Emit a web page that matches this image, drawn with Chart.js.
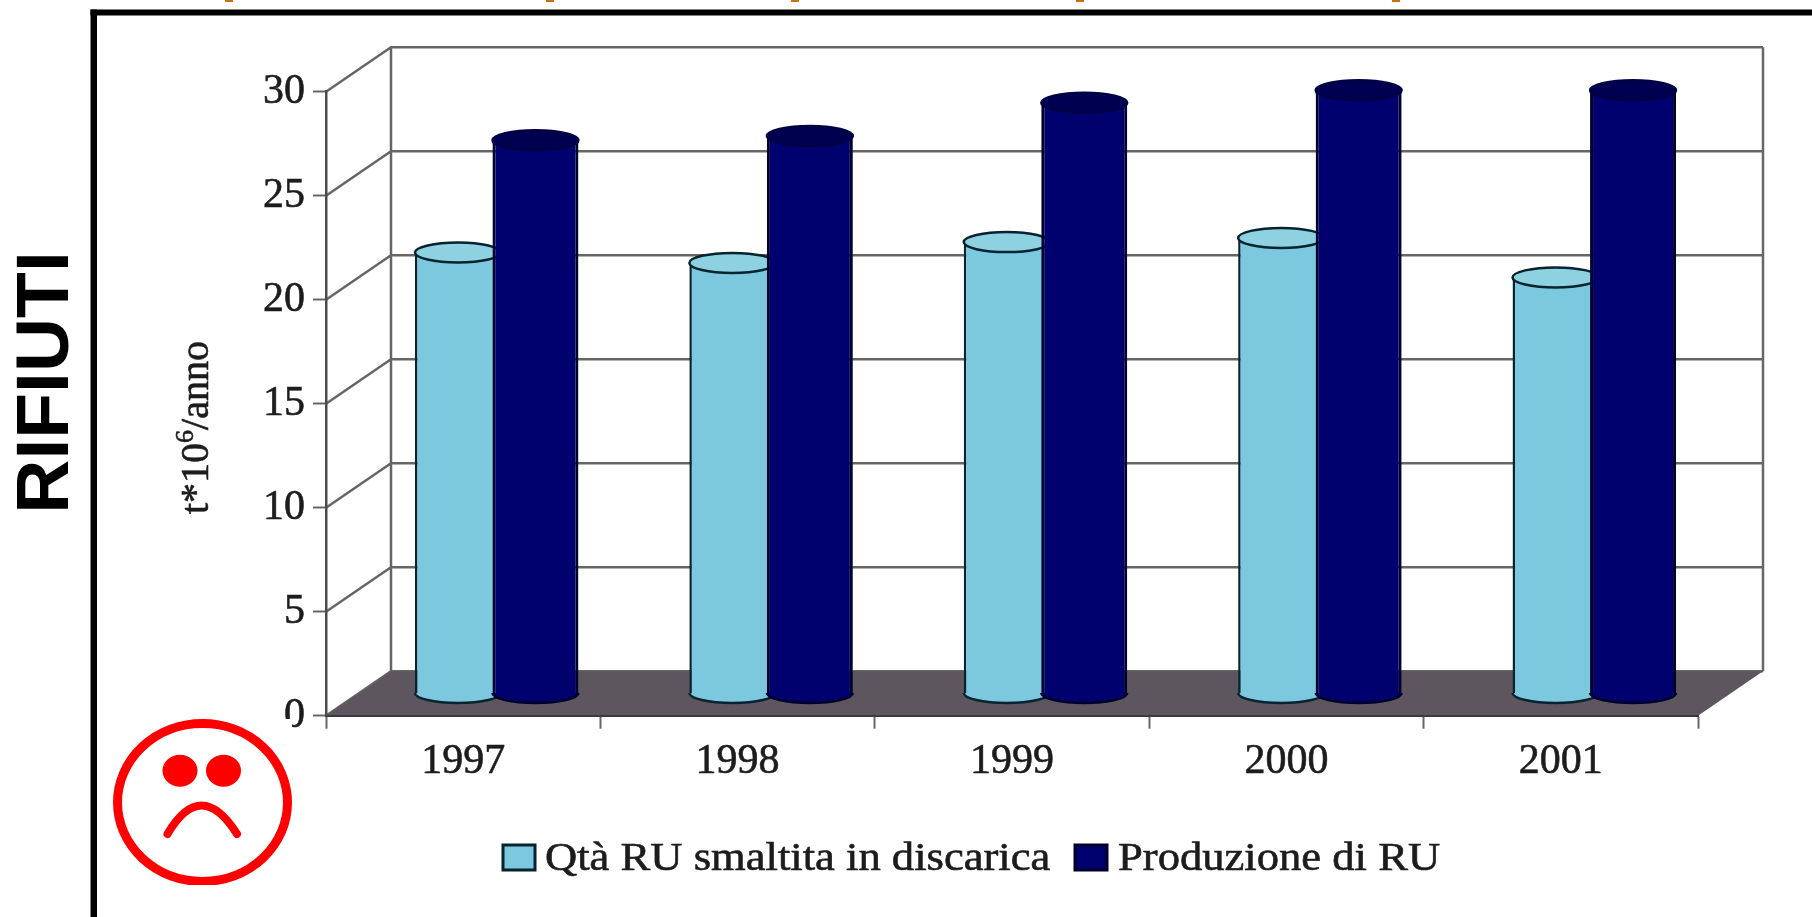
<!DOCTYPE html>
<html lang="it">
<head>
<meta charset="utf-8">
<title>Rifiuti</title>
<script src="https://cdn.jsdelivr.net/npm/chart.js@4/dist/chart.umd.min.js"></script>
<style>
    html, body { margin: 0; padding: 0; background: #fff; overflow: hidden; }
    canvas { display: block; }
</style>
</head>
<body>
<canvas id="wasteChart" width="1812" height="917"></canvas>
<script>
// Chart data
const categories = ['1997', '1998', '1999', '2000', '2001'];
const landfillValues = [21.2, 20.7, 21.7, 21.9, 20.0];
const productionValues = [26.6, 26.8, 28.4, 29.0, 29.0];
const seriesLabels = ['Qtà RU smaltita in discarica', 'Produzione di RU'];
const yTicks = [0, 5, 10, 15, 20, 25, 30];

const SERIF = '"Liberation Serif", "Times New Roman", serif';
const TEXT_COLOR = '#1c1c1c';
const LINE_COLOR = '#666666';

// Fake 3D box: how far the back wall sits from the front axes
const DEPTH_X = 65;
const DEPTH_Y = -44.5;
const ELLIPSE_RY = 10;
// Distance between the two cylinders of a year
const BAR_SLOT = 77.5;

// Walls, floor and grid lines, behind the axes
const boxPlugin = {
    id: 'box3d',
    beforeDraw(chart) {
        const { ctx, chartArea: area, scales } = chart;
        ctx.save();
        ctx.strokeStyle = LINE_COLOR;
        ctx.lineWidth = 2.5;
        ctx.beginPath();
        yTicks.forEach(v => {
            const y = scales.y.getPixelForValue(v);
            ctx.moveTo(area.left, y);
            ctx.lineTo(area.left + DEPTH_X, y + DEPTH_Y);
            ctx.lineTo(area.right + DEPTH_X, y + DEPTH_Y);
        });
        ctx.moveTo(area.left + DEPTH_X, area.top + DEPTH_Y);
        ctx.lineTo(area.left + DEPTH_X, area.bottom + DEPTH_Y);
        ctx.moveTo(area.right + DEPTH_X, area.top + DEPTH_Y);
        ctx.lineTo(area.right + DEPTH_X, area.bottom + DEPTH_Y);
        ctx.stroke();

        ctx.fillStyle = '#5e565e';
        ctx.beginPath();
        ctx.moveTo(area.left, area.bottom);
        ctx.lineTo(area.right, area.bottom);
        ctx.lineTo(area.right + DEPTH_X, area.bottom + DEPTH_Y);
        ctx.lineTo(area.left + DEPTH_X, area.bottom + DEPTH_Y);
        ctx.closePath();
        ctx.fill();
        ctx.restore();
    }
};

// Bars stand halfway into the box, and get round caps to look like cylinders.
// grouped is off so the dark one can overlap the light one, each is moved aside here.
const cylinderPlugin = {
    id: 'cylinders',
    beforeDatasetDraw(chart, args) {
        const side = args.index === 0 ? -0.5 : 0.5;
        chart.ctx.save();
        chart.ctx.translate(DEPTH_X / 2 + 1 + side * BAR_SLOT, DEPTH_Y / 2);
    },
    afterDatasetDraw(chart, args) {
        const ctx = chart.ctx;
        const ds = chart.data.datasets[args.index];
        ctx.lineWidth = 2.5;
        args.meta.data.forEach(bar => {
            const rx = bar.width / 2;
            ctx.strokeStyle = ds.borderColor;
            ctx.beginPath();
            ctx.ellipse(bar.x, bar.base, rx, ELLIPSE_RY, 0, 0, Math.PI);
            ctx.fillStyle = ds.backgroundColor;
            ctx.fill();
            ctx.stroke();

            ctx.strokeStyle = ds.topStroke;
            ctx.beginPath();
            ctx.ellipse(bar.x, bar.y, rx, ELLIPSE_RY, 0, 0, Math.PI * 2);
            ctx.fillStyle = ds.topColor;
            ctx.fill();
            ctx.stroke();
        });
        ctx.restore();
    }
};

// Page furniture: frame, side title, axis title, legend, face
const decorPlugin = {
    id: 'decor',
    afterDraw(chart) {
        const ctx = chart.ctx;
        ctx.save();

        // Frame
        ctx.fillStyle = '#000';
        ctx.fillRect(90.5, 9.5, 1722, 6);
        ctx.fillRect(90.5, 9.5, 6.5, 908);

        // Leftovers of the cropped heading
        ctx.fillStyle = '#c96f0c';
        [229, 550, 795, 1080, 1396].forEach(x => ctx.fillRect(x - 4, 0, 8, 2));

        // Side title
        ctx.save();
        ctx.translate(68.3, 382.5);
        ctx.rotate(-Math.PI / 2);
        ctx.fillStyle = '#000';
        ctx.font = 'bold 75px "Liberation Sans", Arial, sans-serif';
        ctx.textAlign = 'center';
        ctx.textBaseline = 'alphabetic';
        ctx.fillText('RIFIUTI', 0, 0);
        ctx.restore();

        // Y axis title with superscript
        ctx.save();
        ctx.translate(208, 514);
        ctx.rotate(-Math.PI / 2);
        ctx.fillStyle = TEXT_COLOR;
        ctx.strokeStyle = TEXT_COLOR;
        ctx.lineWidth = 0.6;
        ctx.textAlign = 'left';
        ctx.textBaseline = 'alphabetic';
        ctx.font = '40px ' + SERIF;
        ctx.fillText('t*10', 0, 0);
        ctx.strokeText('t*10', 0, 0);
        let offset = ctx.measureText('t*10').width;
        ctx.font = '26px ' + SERIF;
        ctx.fillText('6', offset, -15);
        ctx.strokeText('6', offset, -15);
        offset += ctx.measureText('6').width;
        ctx.font = '40px ' + SERIF;
        ctx.fillText('/anno', offset, 0);
        ctx.strokeText('/anno', offset, 0);
        ctx.restore();

        // Legend
        const legendX = [[503, 545], [1075, 1118]];
        chart.data.datasets.forEach((ds, i) => {
            ctx.fillStyle = ds.backgroundColor;
            ctx.fillRect(legendX[i][0], 845, 32, 25);
            ctx.lineWidth = 3;
            ctx.strokeStyle = ds.borderColor;
            ctx.strokeRect(legendX[i][0], 845, 32, 25);

            ctx.save();
            ctx.translate(legendX[i][1], 870);
            ctx.scale(1.115, 1);
            ctx.fillStyle = TEXT_COLOR;
            ctx.strokeStyle = TEXT_COLOR;
            ctx.lineWidth = 0.6;
            ctx.font = '40px ' + SERIF;
            ctx.textAlign = 'left';
            ctx.textBaseline = 'alphabetic';
            ctx.fillText(ds.label, 0, 0);
            ctx.strokeText(ds.label, 0, 0);
            ctx.restore();
        });

        // Sad face, on its own white patch
        ctx.fillStyle = '#fff';
        ctx.fillRect(108, 719, 184, 167);
        ctx.beginPath();
        ctx.rect(108, 719, 184, 166);
        ctx.clip();
        ctx.strokeStyle = '#ff0000';
        ctx.fillStyle = '#ff0000';
        ctx.lineWidth = 9;
        ctx.beginPath();
        ctx.ellipse(202.5, 802.5, 85, 79, 0, 0, Math.PI * 2);
        ctx.stroke();
        ctx.beginPath();
        ctx.ellipse(180, 770.7, 17.5, 16, 0, 0, Math.PI * 2);
        ctx.ellipse(223.5, 770.7, 17.5, 16, 0, 0, Math.PI * 2);
        ctx.fill();
        ctx.lineCap = 'round';
        ctx.lineWidth = 8;
        ctx.beginPath();
        ctx.moveTo(167.5, 834);
        ctx.quadraticCurveTo(201, 777, 237, 834);
        ctx.stroke();

        ctx.restore();
    }
};

const chart = new Chart(document.getElementById('wasteChart'), {
    type: 'bar',
    data: {
        labels: categories,
        datasets: [
            {
                label: seriesLabels[0],
                data: landfillValues,
                order: 2,
                backgroundColor: '#7cc8df',
                topColor: '#8ed2e2',
                topStroke: '#07232f',
                borderColor: '#07232f',
                borderWidth: { left: 2.5, right: 2.5, top: 0, bottom: 0 },
                borderSkipped: false,
                clip: false
            },
            {
                label: seriesLabels[1],
                data: productionValues,
                order: 1,
                backgroundColor: '#00006e',
                topColor: '#000050',
                topStroke: '#000046',
                borderColor: '#00002c',
                borderWidth: { left: 3, right: 3, top: 0, bottom: 0 },
                borderSkipped: false,
                clip: false
            }
        ]
    },
    options: {
        responsive: false,
        animation: false,
        layout: {
            padding: { left: 242, right: 114, top: 91.7, bottom: 141.3 }
        },
        datasets: {
            bar: {
                grouped: false,
                categoryPercentage: 1,
                barPercentage: 0.3134
            }
        },
        plugins: {
            legend: { display: false },
            tooltip: { enabled: false }
        },
        scales: {
            x: {
                afterFit(scale) { scale.height = 60; },
                grid: {
                    drawOnChartArea: false,
                    tickLength: 13,
                    tickWidth: 2,
                    tickColor: LINE_COLOR
                },
                border: { color: '#3c383c', width: 2 },
                ticks: {
                    padding: 8,
                    color: TEXT_COLOR,
                    textStrokeColor: TEXT_COLOR,
                    textStrokeWidth: 0.6,
                    font: { family: SERIF, size: 42 }
                }
            },
            y: {
                min: yTicks[0],
                max: yTicks[yTicks.length - 1],
                afterFit(scale) { scale.width = 84; },
                grid: {
                    drawOnChartArea: false,
                    tickLength: 13,
                    tickWidth: 2,
                    tickColor: LINE_COLOR
                },
                border: { color: '#4a4a4a', width: 2.5 },
                ticks: {
                    stepSize: 5,
                    padding: 8,
                    color: TEXT_COLOR,
                    textStrokeColor: TEXT_COLOR,
                    textStrokeWidth: 0.6,
                    font: { family: SERIF, size: 42 }
                }
            }
        }
    },
    plugins: [boxPlugin, cylinderPlugin, decorPlugin]
});
</script>
</body>
</html>
